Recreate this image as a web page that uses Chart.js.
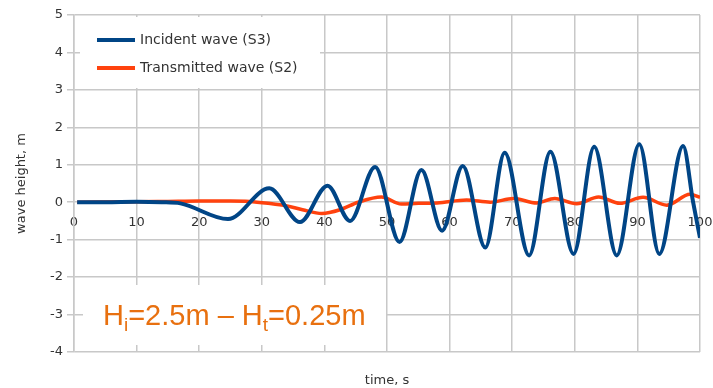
<!DOCTYPE html>
<html lang="en">
<head>
    <meta charset="UTF-8">
    <title>Wave height</title>
    <script src="https://cdn.jsdelivr.net/npm/chart.js"></script>
    <style>
        body {
            margin: 0;
            padding: 0;
            background: white;
        }
        canvas {
            display: block;
        }
    </style>
</head>
<body>
    <canvas id="waveChart" width="713" height="388"></canvas>

    <script>
        // values (time in s, height in m): crests and troughs
        const incidentTime = [0.5, 5, 10, 14, 17, 24.6, 31.2, 36.1, 40.5, 44.1, 48.1, 52.0, 55.5, 58.8, 62.1, 65.7, 68.8, 72.7, 76.1, 79.8, 83.1, 86.7, 90.3, 93.5, 97.3, 98.9, 100];
        const incidentHeight = [0, 0, 0.01, 0, -0.03, -0.45, 0.37, -0.53, 0.44, -0.5, 0.94, -1.06, 0.86, -0.76, 0.97, -1.21, 1.32, -1.42, 1.35, -1.38, 1.48, -1.42, 1.55, -1.38, 1.5, 0, -0.95];

        const transmittedTime = [0.5, 10, 15, 20, 25, 28, 31, 34, 36.5, 39.6, 42.5, 45.4, 49.1, 52.3, 55, 58, 62.7, 66.5, 70.2, 73.9, 76.8, 80.3, 83.8, 87.2, 90.9, 94.7, 98.4, 100];
        const transmittedHeight = [0, 0.01, 0.02, 0.03, 0.03, 0.02, -0.03, -0.1, -0.2, -0.3, -0.2, 0, 0.14, -0.05, -0.03, -0.02, 0.06, 0, 0.1, -0.02, 0.1, -0.04, 0.14, -0.03, 0.13, -0.08, 0.21, 0.13];

        const seriesNames = ["Incident wave (S3)", "Transmitted wave (S2)"];
        const seriesColors = ["#004586", "#ff420e"];
        const noteText = ["H", "i", "=2.5m \u2013 H", "t", "=0.25m"];

        const gridColor = "#c8c8c8";
        const textColor = "#333333";
        const fontName = "'DejaVu Sans', sans-serif";

        const toPoints = (xs, ys) => xs.map((x, i) => ({ x: x, y: ys[i] }));

        // legend box and the note box sit inside the plot, on white
        const boxesPlugin = {
            id: "boxes",
            beforeDatasetsDraw(chart) {
                const ctx = chart.ctx;
                ctx.save();
                ctx.fillStyle = "white";
                ctx.fillRect(80, 17, 240, 71);
                ctx.fillRect(83, 285, 303, 60);

                // legend
                ctx.font = "14px " + fontName;
                ctx.textBaseline = "middle";
                ctx.textAlign = "left";
                const rows = [40, 68];
                seriesNames.forEach((name, i) => {
                    ctx.strokeStyle = seriesColors[i];
                    ctx.lineWidth = 4;
                    ctx.beginPath();
                    ctx.moveTo(97, rows[i]);
                    ctx.lineTo(135, rows[i]);
                    ctx.stroke();
                    ctx.fillStyle = textColor;
                    ctx.fillText(name, 140, rows[i]);
                });

                // note with subscripts
                ctx.fillStyle = "#e8700f";
                ctx.textBaseline = "alphabetic";
                let x = 103;
                noteText.forEach((part, i) => {
                    const sub = i % 2 === 1;
                    ctx.font = (sub ? "19px " : "29px ") + "'Liberation Sans', sans-serif";
                    ctx.fillText(part, x, sub ? 331 : 325);
                    x += ctx.measureText(part).width;
                });
                ctx.restore();
            }
        };

        new Chart(document.getElementById("waveChart"), {
            type: "line",
            data: {
                datasets: [{
                    label: seriesNames[0],
                    data: toPoints(incidentTime, incidentHeight),
                    borderColor: seriesColors[0],
                    borderWidth: 4,
                    pointRadius: 0,
                    cubicInterpolationMode: "monotone"
                }, {
                    label: seriesNames[1],
                    data: toPoints(transmittedTime, transmittedHeight),
                    borderColor: seriesColors[1],
                    borderWidth: 3.5,
                    pointRadius: 0,
                    cubicInterpolationMode: "monotone"
                }]
            },
            options: {
                responsive: false,
                animation: false,
                layout: {
                    padding: { left: 0, top: 15, right: 13, bottom: 0 }
                },
                plugins: {
                    legend: { display: false },
                    tooltip: { enabled: false }
                },
                scales: {
                    x: {
                        type: "linear",
                        position: { y: 0 },
                        min: 0,
                        max: 100,
                        afterFit: (s) => {
                            s.height = 0;
                            s.paddingLeft = 0;
                            s.paddingRight = 0;
                        },
                        ticks: {
                            stepSize: 10,
                            padding: 13,
                            color: textColor,
                            font: { family: fontName, size: 13 }
                        },
                        grid: {
                            color: gridColor,
                            lineWidth: 1.5,
                            drawTicks: false
                        },
                        border: { display: false }
                    },
                    x2: {
                        type: "linear",
                        position: "bottom",
                        min: 0,
                        max: 100,
                        afterFit: (s) => {
                            s.height = 36;
                            s.paddingLeft = 0;
                            s.paddingRight = 0;
                        },
                        ticks: { display: false },
                        grid: { display: false },
                        border: { display: false },
                        title: {
                            display: true,
                            text: "time, s",
                            color: textColor,
                            padding: { top: 0, bottom: 0 },
                            font: { family: fontName, size: 13 }
                        }
                    },
                    y: {
                        min: -4,
                        max: 5,
                        afterFit: (s) => { s.width = 74; },
                        ticks: {
                            stepSize: 1,
                            padding: 4,
                            color: textColor,
                            font: { family: fontName, size: 13 }
                        },
                        grid: {
                            color: gridColor,
                            lineWidth: 1.5,
                            tickLength: 7
                        },
                        border: { color: gridColor, width: 1.5 },
                        title: {
                            display: true,
                            text: "wave height, m",
                            color: textColor,
                            padding: { top: 14, bottom: 0 },
                            font: { family: fontName, size: 13 }
                        }
                    }
                }
            },
            plugins: [boxesPlugin]
        });
    </script>
</body>
</html>
